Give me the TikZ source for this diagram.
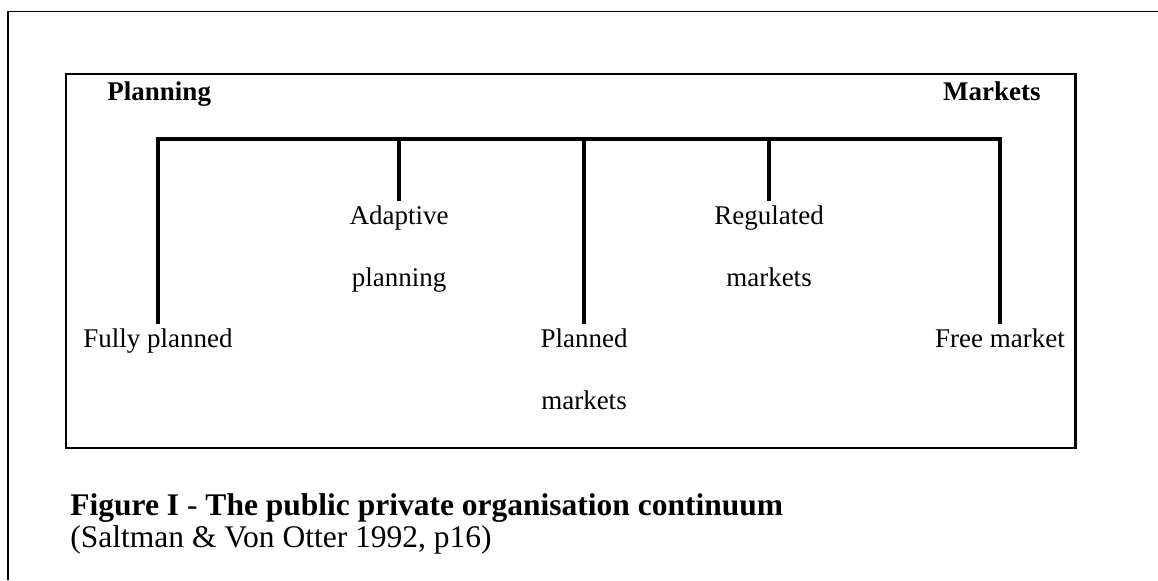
\documentclass[tikz,border=0pt]{standalone}
\usepackage{fontspec}
\setmainfont{Liberation Serif}
\tikzset{>=stealth}
\tikzset{
  outerline/.style={line width=0.8pt},
  boxline/.style={line width=1.1pt},
  comb/.style={line width=2.1pt, line join=miter},
  lbl/.style={anchor=north, inner sep=2pt, align=center, font=\fontsize{12}{27.5}\selectfont},
  endlbl/.style={inner sep=0pt, font=\fontsize{12}{14}\selectfont\bfseries}
}

\begin{document}
\begin{tikzpicture}[x=0.4444pt, y=-0.4444pt]
    \useasboundingbox (0,0) rectangle (1158,580);
    \draw[outerline] (8,580) -- (8,11.5) -- (1158,11.5);
    \draw[boxline] (66,74) rectangle (1075.5,448);
    \node[endlbl, anchor=base west] (plan) at (107,100) {Planning};
    \node[endlbl, anchor=base east] (mkt) at (1041,100) {Markets};
    % the bar
    \coordinate (b1) at (158,139);
    \coordinate (b2) at (399,139);
    \coordinate (b3) at (584,139);
    \coordinate (b4) at (769,139);
    \coordinate (b5) at (1000,139);
    \node[lbl] (full) at (158,324) {Fully planned};
    \node[lbl] (adapt) at (399,201) {Adaptive\\planning};
    \node[lbl] (plmkt) at (584,324) {Planned\\markets};
    \node[lbl] (regmkt) at (769,201) {Regulated\\markets};
    \node[lbl] (free) at (1000,324) {Free market};
    \draw[comb] (full.north) -- (b1) -- (b5) -- (free.north);
    \foreach \b/\n in {b2/adapt, b3/plmkt, b4/regmkt}
    \draw[comb] (\b) -- (\n.north);
    % caption
    \node[anchor=base west, inner sep=0pt, font=\fontsize{14}{16}\selectfont] (cap) at (70,515)
        {\textbf{Figure I} - \textbf{The public private organisation continuum}};
    \node[anchor=base west, inner sep=0pt, font=\fontsize{14}{16}\selectfont] (src) at (70,547)
        {(Saltman \& Von Otter 1992, p16)};
\end{tikzpicture}
\end{document}
